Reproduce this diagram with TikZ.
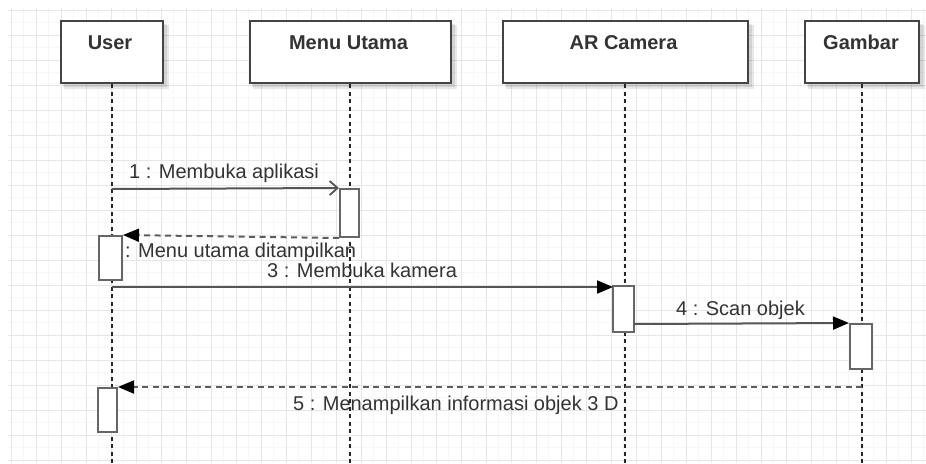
\documentclass[tikz,border=0pt]{standalone}
\usepackage{fontspec}
\setmainfont{Liberation Sans}
\usetikzlibrary{arrows.meta}
\definecolor{gridmajor}{HTML}{E6E6E6}
\definecolor{gridminor}{HTML}{F7F7F7}
\definecolor{boxline}{HTML}{444444}
\definecolor{msgline}{HTML}{555555}
\definecolor{txt}{HTML}{333333}
\tikzset{
  actorbox/.style={draw=boxline, line width=2pt, fill=white, rectangle,
    inner sep=0pt, minimum height=62pt},
  actorshadow/.style={fill=black, opacity=0.09, draw=none},
  titletext/.style={font=\fontsize{20}{24}\selectfont\bfseries, text=txt,
    anchor=base, inner sep=0pt},
  lifeline/.style={draw=black!85, line width=1.6pt, dash pattern=on 4pt off 3.5pt},
  actbox/.style={draw=msgline!90, line width=2pt, fill=white, rectangle, inner sep=0pt},
  callmsg/.style={draw=msgline, line width=2pt,
    -{Triangle[length=16pt,width=13pt,fill=black,color=black]}},
  syncmsg/.style={draw=msgline, line width=2pt,
    -{Straight Barb[length=8pt,width=14pt,line width=1.8pt]}},
  replymsg/.style={draw=msgline!95, line width=2pt, dash pattern=on 6pt off 4.5pt,
    -{Triangle[length=16pt,width=13pt,fill=black,color=black]}},
  msglabel/.style={font=\fontsize{20}{24}\selectfont, text=txt, anchor=base west, inner sep=0pt},
}
\begin{document}
\begin{tikzpicture}[x=1pt,y=-1pt]
\useasboundingbox (0,0) rectangle (926,463);
% background grid
\fill[white] (0,0) rectangle (926,463);
\foreach \gx in {23.5,48.5,...,926} \draw[gridminor, line width=0.8pt] (\gx,8) -- (\gx,463);
\foreach \gy in {22.5,47.5,...,463} \draw[gridminor, line width=0.8pt] (8,\gy) -- (926,\gy);
\foreach \gx in {11,36,...,926} \draw[gridmajor, line width=1pt] (\gx,8) -- (\gx,463);
\foreach \gy in {10,35,...,463} \draw[gridmajor, line width=1pt] (8,\gy) -- (926,\gy);

% lifeline heads: shadows, boxes and titles
\foreach \cx/\w in {112/102, 350/201, 625/245, 862/114}{
  \fill[actorshadow] (\cx-\w/2+3,25) rectangle (\cx+\w/2+6,89);
  \fill[actorshadow] (\cx-\w/2+2,24) rectangle (\cx+\w/2+4,87);
}
\node[actorbox, minimum width=102pt] (user) at (112,52) {};
\node[actorbox, minimum width=201pt] (menu) at (350,52) {};
\node[actorbox, minimum width=245pt] (arcam) at (625,52) {};
\node[actorbox, minimum width=114pt] (gambar) at (862,52) {};
\node[titletext] (usert) at (110,49) {User};
\node[titletext] (menut) at (348.5,49) {Menu Utama};
\node[titletext] (arcamt) at (623.5,49) {AR Camera};
\node[titletext] (gambart) at (861,49) {Gambar};

% lifelines
\coordinate (userend) at (112,463);
\coordinate (menuend) at (350,463);
\coordinate (arcamend) at (625,463);
\coordinate (gambarend) at (862,463);
\draw[lifeline] (user.south) -- (userend);
\draw[lifeline] (menu.south) -- (menuend);
\draw[lifeline] (arcam.south) -- (arcamend);
\draw[lifeline] (gambar.south) -- (gambarend);

% activation bars
\node[actbox, minimum width=19pt, minimum height=48pt] (act1) at (349.5,213) {};
\node[actbox, minimum width=23pt, minimum height=44pt] (act2) at (110.5,258) {};
\node[actbox, minimum width=21pt, minimum height=46pt] (act3) at (623.5,309) {};
\node[actbox, minimum width=22pt, minimum height=45pt] (act4) at (861,346.5) {};
\node[actbox, minimum width=19pt, minimum height=44pt] (act5) at (107.5,410) {};

% message end points on the lifelines
\coordinate (m1s) at (112,189);
\coordinate (m3s) at (112,287);
\coordinate (m3e) at (613,287);
\coordinate (m4s) at (634,324);
\coordinate (m5s) at (862,387);

% messages
\draw[syncmsg] (m1s) -- (act1.north west);
\draw[replymsg] (act1.south west) -- (act2.north east);
\draw[callmsg] (m3s) -- (m3e);
\draw[callmsg] (m4s) -- (act4.north west);
\draw[replymsg] (m5s) -- (act5.north east);

% message labels
\node[msglabel] (l1) at (129,178) {1 : Membuka aplikasi};
\node[msglabel] (l2) at (125,257) {: Menu utama ditampilkan};
\node[msglabel] (l3) at (267,277) {3 : Membuka kamera};
\node[msglabel] (l4) at (676,315) {4 : Scan objek};
\node[msglabel] (l5) at (293,410) {5 : Menampilkan informasi objek 3 D};
\end{tikzpicture}
\end{document}
